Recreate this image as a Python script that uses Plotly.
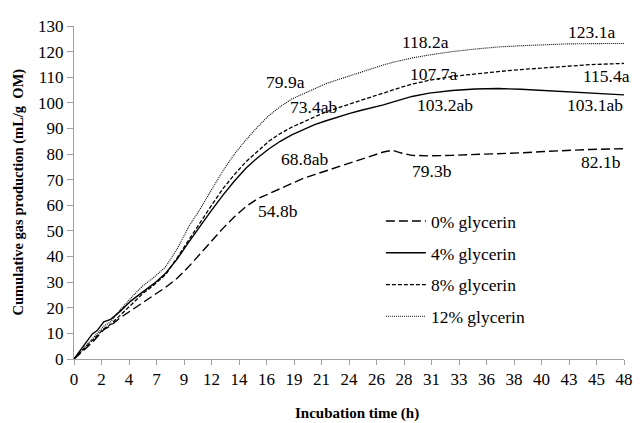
import plotly.graph_objects as go

# Incubation time (h)
hours = [0, 1, 1.6, 2, 2.6, 3.2, 4, 5, 6, 7, 8, 9, 10, 11, 12, 13, 14, 15, 16, 17, 18, 19, 20,
         21, 22, 23, 24, 25, 26, 27, 27.8, 28.5, 29.5, 31, 33, 35, 37, 39, 41, 43, 45, 48]

g0 = [0, 4, 6.5, 8.5, 11.5, 13, 16, 19, 22, 25, 28, 31.5, 36, 41, 46, 51, 55.5, 59.5, 62.5, 64.5,
      66.5, 68.5, 70.5, 72, 73.5, 75, 76.5, 78, 79.5, 80.8, 81.5, 80.5, 79.5, 79.3, 79.5, 79.8,
      80, 80.5, 81, 81.5, 81.8, 82.1]
g4 = [0, 6, 9.8, 11, 14.5, 15.5, 18.5, 22.8, 26.2, 29.5, 33.5, 39, 45.5, 52, 58, 64, 69.5, 74.5,
      78.5, 82, 85, 87.5, 89.5, 91.5, 93, 94.5, 95.8, 97, 98, 99.2, 100.3, 101.3, 102.5, 103.8,
      104.8, 105.4, 105.6, 105.3, 104.8, 104.3, 103.8, 103.1]
g8 = [0, 4.5, 7.2, 9, 11.8, 13.5, 17, 21.5, 25.5, 29, 33, 39.5, 46.5, 53.5, 60, 66.5, 72, 77,
      81, 85, 88, 90.5, 92.5, 94.5, 96.5, 98, 99.5, 101, 102.5, 104, 105, 106, 107.3, 108.8,
      110.3, 111.3, 112.2, 113, 113.7, 114.4, 114.9, 115.4]
g12 = [0, 5, 8, 10, 12.8, 14.5, 19, 24, 28.5, 32, 36, 43, 51.5, 58.5, 66, 73.5, 80, 85.5, 90.5,
       95, 98.5, 101.5, 103.5, 105.5, 107.5, 109, 110.5, 112, 113.5, 114.8, 115.8, 116.6, 117.5,
       118.7, 120, 121, 121.8, 122.3, 122.7, 123, 123.1, 123.2]

series_names = ["0% glycerin", "4% glycerin", "8% glycerin", "12% glycerin"]
series_vals = [g0, g4, g8, g12]
series_dash = ["9px,4px", "solid", "4px,2px", "1px,1px"]
series_width = [1.4, 1.4, 1.3, 1.1]

tick_pos = [i * 2.4 for i in range(21)]
tick_text = ["0", "2", "4", "7", "9", "12", "14", "16", "19", "21", "24", "26", "28", "31",
             "33", "36", "38", "40", "43", "45", "48"]

label_text = ["79.9a", "73.4ab", "68.8ab", "54.8b", "118.2a", "107.7a", "103.2ab", "79.3b",
              "123.1a", "115.4a", "103.1ab", "82.1b"]
label_x = [18.5, 20.9, 20.1, 17.8, 30.7, 31.4, 32.4, 31.2, 45.2, 46.5, 45.5, 46.0]
label_y = [108.2, 98.3, 78.0, 57.7, 123.9, 111.3, 99.1, 73.4, 127.7, 110.5, 99.1, 76.8]

FONT = "Liberation Serif"
AXC = "#a0a0a0"

fig = go.Figure()
for i, (name, vals) in enumerate(zip(series_names, series_vals)):
    fig.add_trace(go.Scatter(
        x=hours, y=vals, mode="lines", name=name, legendgroup=name,
        line=dict(color="black", width=series_width[i], dash=series_dash[i]),
    ))

for t, x, y in zip(label_text, label_x, label_y):
    fig.add_annotation(x=x, y=y, text=t, showarrow=False, xanchor="center", yanchor="middle",
                       font=dict(family=FONT, size=17.5, color="black"))

fig.add_annotation(xref="paper", yref="paper", x=0.515, y=0, yshift=-54, text="<b>Incubation time (h)</b>",
                   showarrow=False, xanchor="center", yanchor="middle",
                   font=dict(family=FONT, size=15, color="black"))
fig.add_annotation(xref="paper", yref="paper", x=0, xshift=-56, y=0.5,
                   text="<b>Cumulative gas production (mL/g  OM)</b>", textangle=-90,
                   showarrow=False, xanchor="center", yanchor="middle",
                   font=dict(family=FONT, size=14.5, color="black"))

fig.update_layout(
    width=634, height=415,
    margin=dict(l=66, r=9, t=11, b=64),
    paper_bgcolor="white", plot_bgcolor="white",
    font=dict(family=FONT, size=17, color="black"),
    showlegend=True,
    legend=dict(x=0.558, y=0.468, xanchor="left", yanchor="top", bgcolor="rgba(0,0,0,0)",
                font=dict(family=FONT, size=17.5, color="black"), tracegroupgap=6,
                itemwidth=40),
    xaxis=dict(range=[0, 48], tickvals=tick_pos, ticktext=tick_text, showgrid=False,
               zeroline=False, showline=True, linecolor=AXC, linewidth=1, ticks="outside",
               ticklen=5, tickcolor=AXC, tickfont=dict(family=FONT, size=17, color="black")),
    yaxis=dict(range=[0, 130], dtick=10, showgrid=False, zeroline=False, showline=True,
               linecolor=AXC, linewidth=1, ticks="outside", ticklen=6, tickcolor=AXC,
               tickfont=dict(family=FONT, size=17, color="black")),
)

fig.write_html("out.html")
